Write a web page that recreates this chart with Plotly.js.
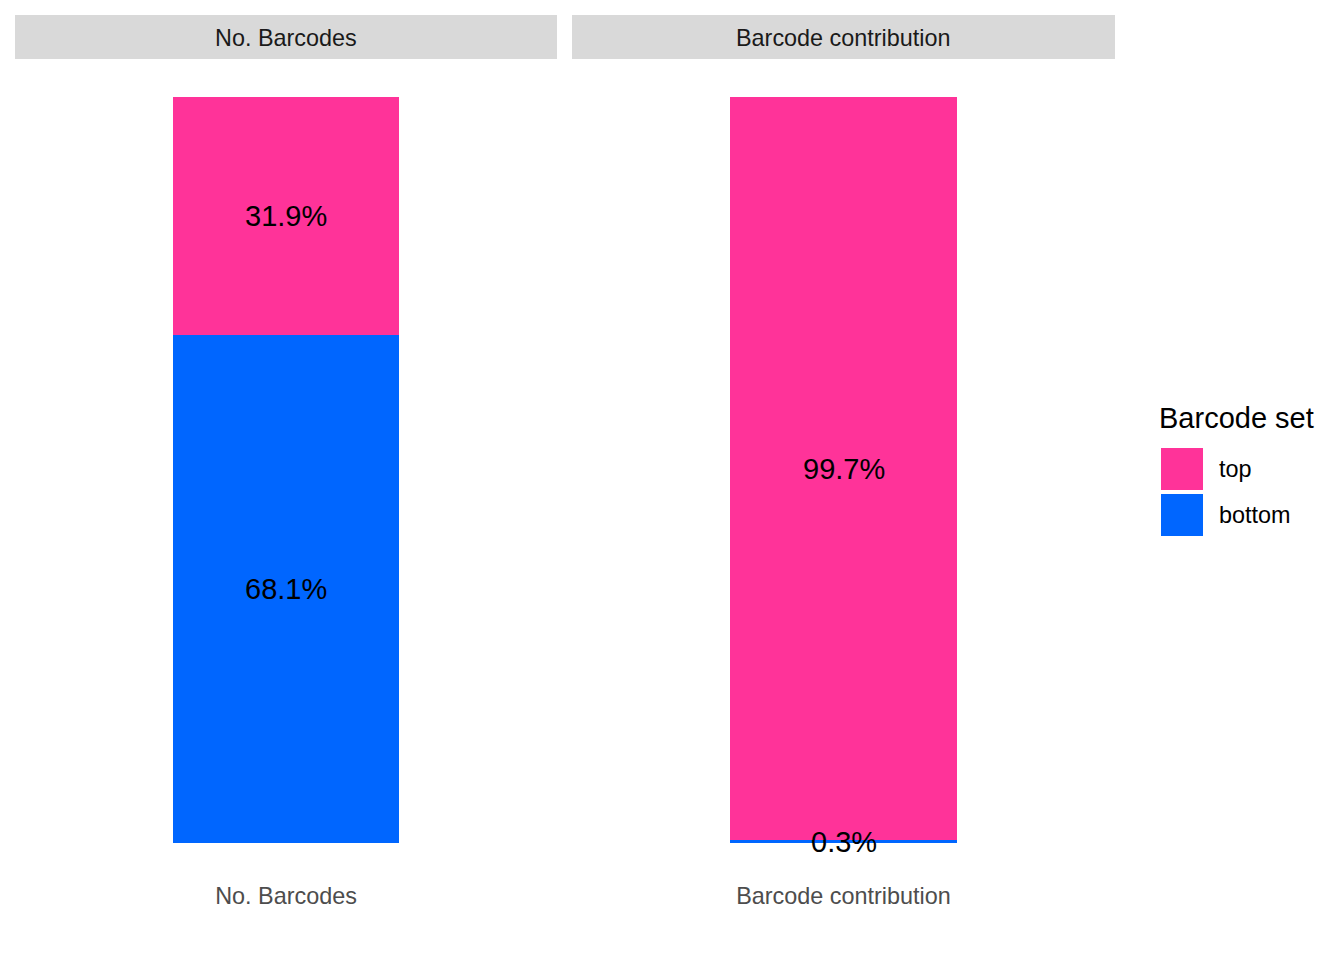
<!DOCTYPE html>
<html>
<head>
<meta charset="utf-8">
<script src="https://cdn.plot.ly/plotly-3.0.1.min.js"></script>
<style>html,body{margin:0;padding:0;background:#fff;}#chart{width:1344px;height:960px;}</style>
</head>
<body>
<div id="chart"></div>
<script>
// Data
const panels = ['No. Barcodes', 'Barcode contribution'];
const setNames = ['top', 'bottom'];
const topPct = [31.9, 99.7];
const bottomPct = [68.1, 0.3];
const colors = {top: '#FF3399', bottom: '#0066FF'};

const W = 1344, H = 960;
const FONT = 'Liberation Sans, Arial, sans-serif';
const xDomains = [[15 / W, 557 / W], [572 / W, 1115 / W]];
const yDomain = [(H - 880) / H, (H - 60) / H];

const traces = [];
const layout = {
  width: W, height: H,
  margin: {l: 0, r: 0, t: 0, b: 0},
  paper_bgcolor: '#fff', plot_bgcolor: '#fff',
  barmode: 'stack',
  showlegend: false,
  font: {family: FONT},
  shapes: [], annotations: []
};

panels.forEach((p, i) => {
  const xa = i === 0 ? 'x' : 'x2';
  const ya = i === 0 ? 'y' : 'y2';
  const b = bottomPct[i] / 100, t = topPct[i] / 100;
  traces.push({type: 'bar', x: [p], y: [b], width: 0.5, marker: {color: colors.bottom, line: {width: 0}}, xaxis: xa, yaxis: ya, hoverinfo: 'none'});
  traces.push({type: 'bar', x: [p], y: [t], width: 0.5, marker: {color: colors.top, line: {width: 0}}, xaxis: xa, yaxis: ya, hoverinfo: 'none'});
  // value labels at segment midpoints
  [[b / 2, bottomPct[i]], [b + t / 2, topPct[i]]].forEach(([yy, v]) => {
    layout.annotations.push({xref: xa, yref: ya, x: p, y: yy, text: v.toFixed(1) + '%',
      showarrow: false, xanchor: 'center', yanchor: 'middle',
      font: {family: FONT, size: 29, color: '#000'}});
  });
  const sfx = i === 0 ? '' : '2';
  layout['xaxis' + sfx] = {
    domain: xDomains[i], anchor: ya, type: 'category', range: [-0.6, 0.6],
    showgrid: false, zeroline: false, showline: false, ticks: '',
    tickfont: {family: FONT, size: 23.4, color: '#4D4D4D'}, fixedrange: true
  };
  layout['yaxis' + sfx] = {
    domain: yDomain, anchor: xa, range: [-0.05, 1.05],
    showgrid: false, zeroline: false, showline: false, showticklabels: false, ticks: '', fixedrange: true
  };
  // strip
  layout.shapes.push({type: 'rect', xref: 'paper', yref: 'paper',
    x0: xDomains[i][0], x1: xDomains[i][1], y0: (H - 59) / H, y1: (H - 15) / H,
    fillcolor: '#D9D9D9', line: {width: 0}, layer: 'below'});
  layout.annotations.push({xref: 'paper', yref: 'paper', x: (xDomains[i][0] + xDomains[i][1]) / 2, y: (H - 38) / H,
    text: p, showarrow: false, xanchor: 'center', yanchor: 'middle',
    font: {family: FONT, size: 23.4, color: '#1A1A1A'}});
});

// legend (manual)
layout.annotations.push({xref: 'paper', yref: 'paper', x: 1157 / W, y: (H - 418) / H, text: 'Barcode set',
  showarrow: false, xanchor: 'left', yanchor: 'middle', font: {family: FONT, size: 29, color: '#000'}});
setNames.forEach((n, k) => {
  const top = 448 + k * 46;
  layout.shapes.push({type: 'rect', xref: 'paper', yref: 'paper',
    x0: 1161 / W, x1: 1203 / W, y0: (H - top - 42) / H, y1: (H - top) / H,
    fillcolor: colors[n], line: {width: 0}});
  layout.annotations.push({xref: 'paper', yref: 'paper', x: 1217 / W, y: (H - top - 21) / H, text: n,
    showarrow: false, xanchor: 'left', yanchor: 'middle', font: {family: FONT, size: 23.4, color: '#000'}});
});

Plotly.newPlot('chart', traces, layout, {staticPlot: true, displayModeBar: false});
</script>
</body>
</html>
